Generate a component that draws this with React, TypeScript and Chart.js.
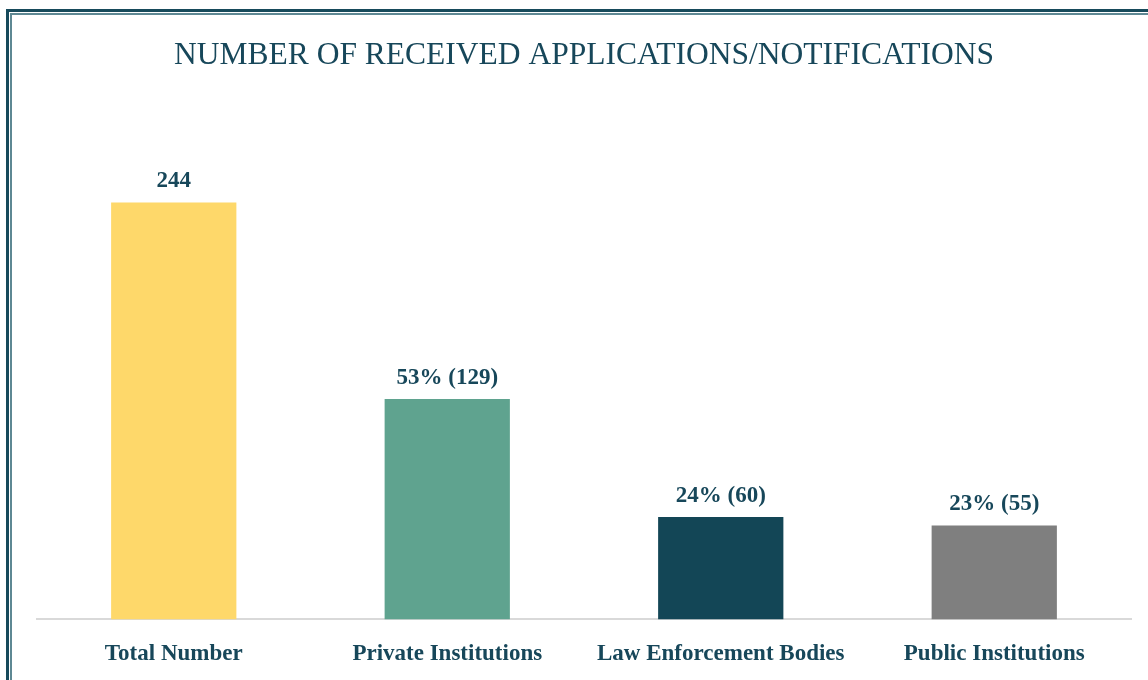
import React, { useEffect, useRef } from "react";
import { Chart, registerables } from "chart.js";

Chart.register(...registerables);

const categories = ["Total Number", "Private Institutions", "Law Enforcement Bodies", "Public Institutions"];
const counts = [244, 129, 60, 55];
const valueLabels = ["244", "53% (129)", "24% (60)", "23% (55)"];
const barColors = ["#FED86A", "#5FA38F", "#134656", "#7F7F7F"];
const titleText = "NUMBER OF RECEIVED APPLICATIONS/NOTIFICATIONS";

const TEXT = "#17475A";
const FONT = "'Liberation Serif', 'DejaVu Serif', serif";

const labelPlugin = {
  id: "valueLabels",
  afterDatasetsDraw(chart: any) {
    const ctx = chart.ctx;
    const meta = chart.getDatasetMeta(0);
    ctx.save();
    ctx.fillStyle = TEXT;
    ctx.font = `bold 23px ${FONT}`;
    ctx.textAlign = "center";
    ctx.textBaseline = "alphabetic";
    meta.data.forEach((bar: any, i: number) => {
      ctx.fillText(valueLabels[i], bar.x, bar.y - 15);
    });
    ctx.restore();
  },
};

export default function App() {
  const ref = useRef<HTMLCanvasElement>(null);
  useEffect(() => {
    if (!ref.current) return;
    const chart = new Chart(ref.current, {
      type: "bar",
      data: {
        labels: categories,
        datasets: [
          {
            data: counts,
            backgroundColor: barColors,
            categoryPercentage: 1,
            barPercentage: 0.458,
          },
        ],
      },
      options: {
        animation: false,
        responsive: false,
        maintainAspectRatio: false,
        layout: { padding: { left: 37, right: 17, top: 0, bottom: -9 } },
        plugins: {
          legend: { display: false },
          tooltip: { enabled: false },
          title: {
            display: true,
            text: titleText,
            fullSize: false,
            color: TEXT,
            font: { family: FONT, size: 31.5, weight: "normal" },
            padding: { top: 37, bottom: 32 },
          },
        },
        scales: {
          x: {
            grid: { display: false, drawTicks: false },
            border: { display: true, color: "#D9D9D9", width: 2 },
            ticks: {
              color: TEXT,
              font: { family: FONT, size: 23, weight: "bold" },
              padding: 21,
              maxRotation: 0,
            },
          },
          y: {
            display: false,
            min: 0,
            max: 300,
          },
        },
      },
      plugins: [labelPlugin],
    });
    return () => chart.destroy();
  }, []);

  return (
    <div style={{ position: "fixed", left: 0, top: 0, width: 1148, height: 680, background: "#fff", overflow: "hidden" }}>
      <div
        style={{
          position: "absolute",
          left: 6,
          top: 9,
          width: 1200,
          height: 800,
          borderLeft: "3px solid #174A5B",
          borderTop: "3px solid #174A5B",
        }}
      >
        <div
          style={{
            position: "absolute",
            left: 1,
            top: 1,
            width: 1200,
            height: 800,
            borderLeft: "2px solid #5E8893",
            borderTop: "2px solid #5E8893",
          }}
        />
      </div>
      <canvas ref={ref} width={1148} height={680} style={{ position: "absolute", left: 0, top: 0 }} />
    </div>
  );
}
